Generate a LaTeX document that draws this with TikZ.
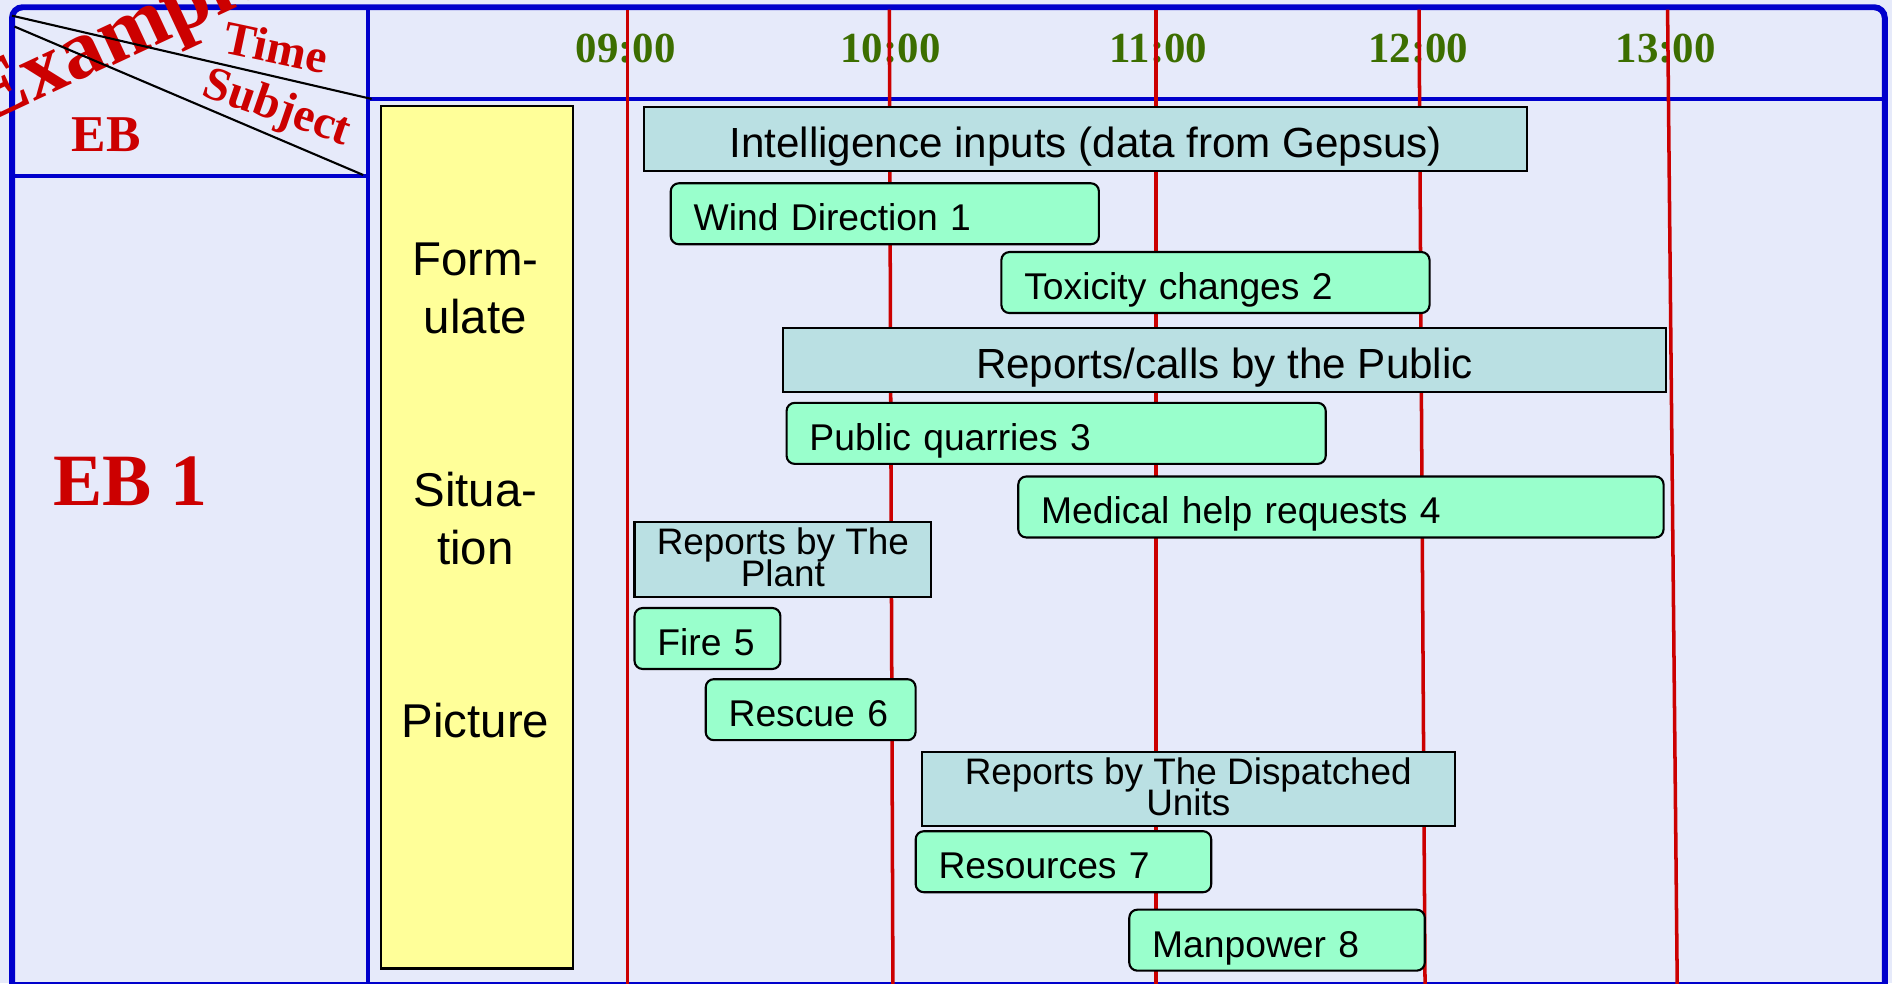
\documentclass[tikz,border=0pt]{standalone}
\usepackage{fontspec}
\setmainfont{Liberation Sans}
\newfontfamily\headfont{Liberation Serif}
\usepackage{tikz}
\usetikzlibrary{positioning}

\definecolor{framebl}{RGB}{0,0,204}
\definecolor{hdrred}{RGB}{204,0,0}
\definecolor{clockgr}{RGB}{60,110,0}
\definecolor{paper}{RGB}{230,234,250}
\definecolor{infobar}{RGB}{186,224,227}
\definecolor{taskbar}{RGB}{153,255,204}
\definecolor{stagebar}{RGB}{255,255,153}

\newcommand{\tightlines}{\lineskiplimit=-10pt\relax}

\begin{document}
\begin{tikzpicture}[
    x=0.012066cm, y=-0.012066cm,
    frame/.style={draw=framebl, line width=1.7pt},
    gridline/.style={draw=framebl, line width=1.1pt},
    hour/.style={draw=hdrred, line width=1pt},
    head/.style={text=hdrred, inner sep=0pt},
    clock/.style={font=\headfont\bfseries\fontsize{12.2}{14}\selectfont, text=clockgr, anchor=base, inner sep=0pt},
    stage/.style={rectangle, draw=black, line width=0.6pt, fill=stagebar, anchor=north west},
    phase/.style={align=center, inner sep=0pt, font=\fontsize{13.5}{16.5}\selectfont, text height=26.5pt, text depth=0pt},
    info/.style={rectangle, draw=black, line width=0.6pt, fill=infobar, anchor=north west, align=center, inner sep=0pt, font=\fontsize{12}{14}\selectfont, text height=10.6pt, text depth=0pt},
    info2/.style={info, font=\fontsize{10.5}{8.9}\selectfont\tightlines, text height=15pt, text depth=0pt},
    task/.style={rectangle, rounded corners=2.3pt, draw=black, line width=0.6pt, fill=taskbar, anchor=north west, align=left, inner xsep=0.229cm, inner ysep=1pt, minimum height=0.61cm, font=\fontsize{10.6}{12}\selectfont, text height=9.6pt, text depth=0pt}
]
    \useasboundingbox (0,0) rectangle (1568,815);
    \clip (0,0) rectangle (1568,815);
    \fill[paper] (0,0) rectangle (1568,815);

    % Frame and grid
    \draw[frame, rounded corners=3pt] (10,830) -- (10,6) -- (1562,6) -- (1562,830);
    \draw[frame] (10,816) -- (1562,816);
    \draw[gridline, line width=1.3pt] (305,82) -- (1562,82);
    \draw[gridline] (10,146) -- (305,146);
    \draw[gridline, line width=1pt] (305,6) -- (305,816);

    % Corner cell
    \node[head, font=\headfont\bfseries\fontsize{24}{26}\selectfont, rotate=25] (example) at (99,33) {Example};
    \coordinate (cornerA) at (10,13);
    \coordinate (cornerB) at (12,22);
    \coordinate (timeEnd) at (308,82);
    \coordinate (subjEnd) at (301,145);
    \draw[black, line width=0.6pt] (cornerA) -- (timeEnd);
    \draw[black, line width=0.6pt] (cornerB) -- (subjEnd);
    \node[head, font=\headfont\bfseries\fontsize{13.5}{16}\selectfont, rotate=-12] (time) at (229,39) {Time};
    \node[head, font=\headfont\bfseries\fontsize{13.5}{16}\selectfont, rotate=-19] (subject) at (229,91) {Subject};
    \node[head, font=\headfont\bfseries\fontsize{14.7}{16}\selectfont] (ebhead) at (88,112) {EB};
    \node[head, font=\headfont\bfseries\fontsize{21}{24}\selectfont] (eb1) at (108,399) {EB 1};

    % Hours
    \node[clock] (t09) at (518.5,52) {09:00};
    \node[clock] (t10) at (738,52) {10:00};
    \node[clock] (t11) at (960,52) {11:00};
    \node[clock] (t12) at (1175.5,52) {12:00};
    \node[clock] (t13) at (1380.5,52) {13:00};
    \foreach \xt/\xb in {520/520, 737/740, 958/958, 1176/1181, 1382/1390}
        \draw[hour] (\xt,8) -- (\xb,816);

    % Stages
    \node[stage, minimum width=1.919cm, minimum height=8.627cm] (stagebox) at (315,87) {};
    \node[phase] (formulate) at (394,237.5) {Form-\\ulate};
    \node[phase] (situation) at (394,429.5) {Situa-\\tion};
    \node[phase, text height=10pt] (picture) at (394,596.4) {Picture};

    % Inputs
    \node[info, minimum width=8.832cm, minimum height=0.640cm] (intel) at (533,88) {Intelligence inputs (data from Gepsus)};
    \node[task, text width=3.825cm] (wind) at (555,151) {Wind Direction 1};
    \node[task, text width=3.825cm] (toxic) at (829,208) {Toxicity changes 2};
    \node[info, minimum width=8.832cm, minimum height=0.640cm] (public) at (648,271) {Reports/calls by the Public};
    \node[task, text width=4.935cm] (quarry) at (651,333) {Public quarries 3};
    \node[task, text width=5.997cm] (medic) at (843,394) {Medical help requests 4};
    \node[info2, minimum width=2.968cm, minimum height=0.748cm] (plant) at (525,432) {Reports by The\\Plant};
    \node[task, text width=1.001cm] (fire) at (525,503) {Fire 5};
    \node[task, text width=1.641cm] (rescue) at (584,562) {Rescue 6};
    \node[info2, minimum width=5.333cm, minimum height=0.748cm] (units) at (763,622) {Reports by The Dispatched\\Units};
    \node[task, text width=2.498cm] (resources) at (758,688) {Resources 7};
    \node[task, text width=2.498cm] (manpower) at (935,753) {Manpower 8};
\end{tikzpicture}
\end{document}
